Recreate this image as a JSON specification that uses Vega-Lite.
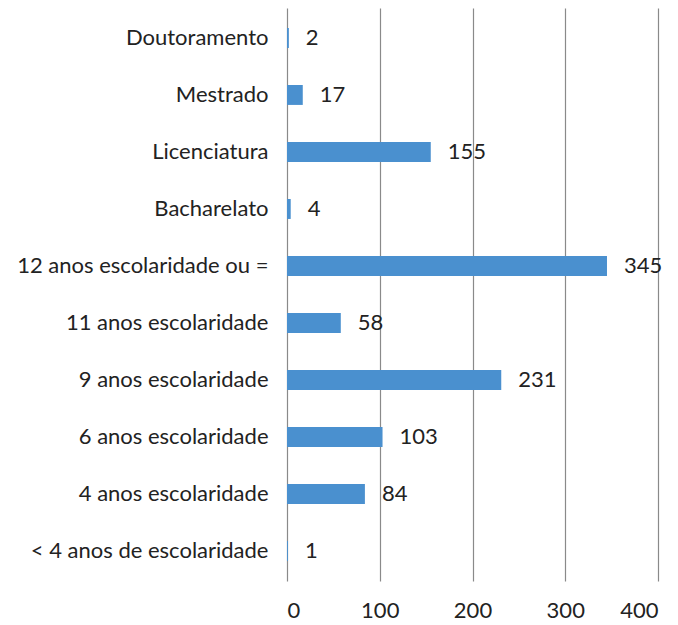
{
  "$schema": "https://vega.github.io/schema/vega-lite/v6.json",
  "autosize": {"type": "none"},
  "padding": {"left": 287, "top": 8, "right": 20, "bottom": 45},
  "width": 371,
  "height": 573,
  "background": "white",
  "config": {"view": {"stroke": null}, "font": "Lato"},
  "data": {"values": [
    {"cat": "Doutoramento", "n": 2},
    {"cat": "Mestrado", "n": 17},
    {"cat": "Licenciatura", "n": 155},
    {"cat": "Bacharelato", "n": 4},
    {"cat": "12 anos escolaridade ou =", "n": 345},
    {"cat": "11 anos escolaridade", "n": 58},
    {"cat": "9 anos escolaridade", "n": 231},
    {"cat": "6 anos escolaridade", "n": 103},
    {"cat": "4 anos escolaridade", "n": 84},
    {"cat": "< 4 anos de escolaridade", "n": 1}
  ]},
  "encoding": {
    "y": {"field": "cat", "type": "nominal", "sort": null,
      "scale": {"paddingInner": 0.65, "paddingOuter": 0.35},
      "axis": {"title": null, "domain": false, "ticks": false, "labelFontSize": 22, "labelColor": "#222", "labelPadding": 19, "labelLimit": 300, "labelFont": "Lato"}},
    "x": {"field": "n", "type": "quantitative",
      "scale": {"domain": [0, 400]},
      "axis": {"title": null, "domain": false, "ticks": false, "values": [0, 100, 200, 300, 400], "grid": true, "gridColor": "#8a8a8a", "gridWidth": 1.2, "labelFontSize": 22, "labelColor": "#222", "labelPadding": 19, "labelFont": "Lato"}}
  },
  "layer": [
    {"mark": {"type": "bar", "color": "#4a90cf"}},
    {"mark": {"type": "text", "align": "left", "dx": 17, "fontSize": 22, "color": "#222", "font": "Lato"},
     "encoding": {"text": {"field": "n", "type": "quantitative"}}}
  ]
}
